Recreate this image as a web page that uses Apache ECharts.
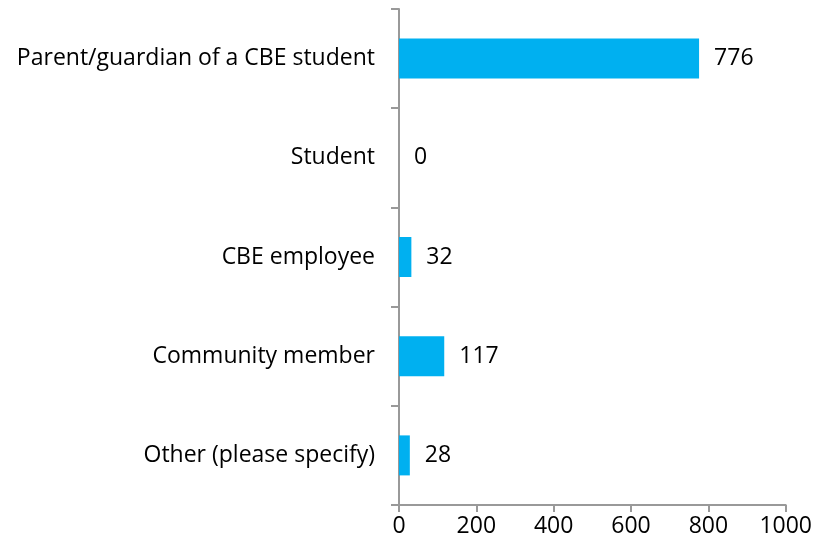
<!DOCTYPE html>
<html><head><meta charset="utf-8">
<script src="https://cdn.jsdelivr.net/npm/echarts@6/dist/echarts.min.js"></script>
<style>html,body{margin:0;padding:0;background:#fff}#c{width:815px;height:550px}</style>
</head><body><div id="c"></div>
<script>
const categories = ["Parent/guardian of a CBE student", "Student", "CBE employee", "Community member", "Other (please specify)"];
const values = [776, 0, 32, 117, 28];
const xTicks = [0, 200, 400, 600, 800, 1000];

const chart = echarts.init(document.getElementById('c'));
const font = "'Open Sans', sans-serif";
chart.setOption({
  animation: false,
  grid: { left: 399, right: 28, top: 9, bottom: 45, containLabel: false },
  xAxis: {
    type: 'value', min: xTicks[0], max: xTicks[xTicks.length - 1], interval: 200,
    axisLine: { show: true, lineStyle: { color: '#999', width: 2 } },
    axisTick: { show: true, length: 7, lineStyle: { color: '#999', width: 2 } },
    splitLine: { show: false },
    axisLabel: { color: '#000', fontSize: 23, fontFamily: font, margin: 10, formatter: v => String(v) }
  },
  yAxis: {
    type: 'category', data: categories, inverse: true,
    axisLine: { show: true, lineStyle: { color: '#999', width: 2 } },
    axisTick: { show: true, length: 8, lineStyle: { color: '#999', width: 2 } },
    axisLabel: { color: '#000', fontSize: 23, fontFamily: font, margin: 24 }
  },
  series: [{
    type: 'bar', data: values, barWidth: 40,
    itemStyle: { color: '#00B0F0' },
    label: { show: true, position: 'right', distance: 15, color: '#000', fontSize: 23, fontFamily: font }
  }]
});
</script></body></html>
